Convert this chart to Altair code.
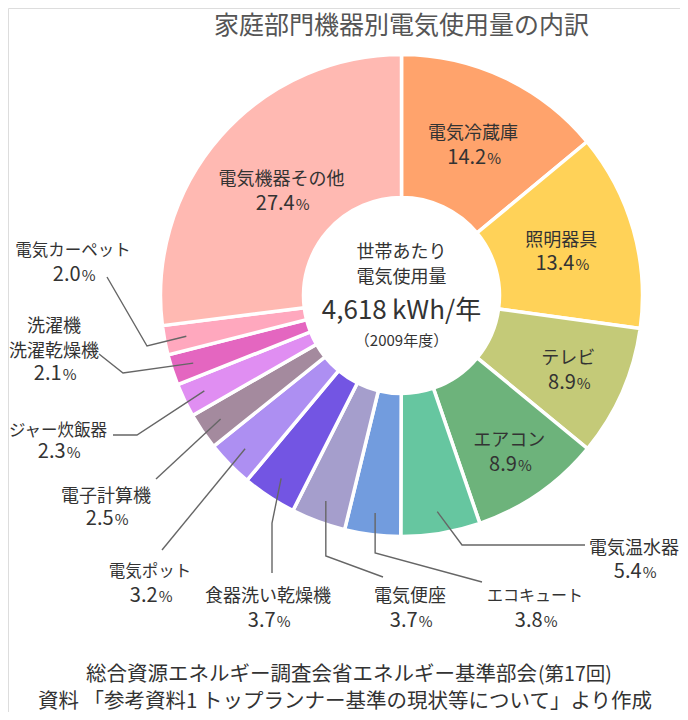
import math
import altair as alt
import pandas as pd

# ---------------- data ----------------
names = ["電気冷蔵庫", "照明器具", "テレビ", "エアコン", "電気温水器", "エコキュート",
         "電気便座", "食器洗い乾燥機", "電気ポット", "電子計算機", "ジャー炊飯器",
         "洗濯機・洗濯乾燥機", "電気カーペット", "電気機器その他"]
label_lines = [["電気冷蔵庫"], ["照明器具"], ["テレビ"], ["エアコン"], ["電気温水器"],
               ["エコキュート"], ["電気便座"], ["食器洗い乾燥機"], ["電気ポット"],
               ["電子計算機"], ["ジャー炊飯器"], ["洗濯機", "洗濯乾燥機"],
               ["電気カーペット"], ["電気機器その他"]]
values = [14.2, 13.4, 8.9, 8.9, 5.4, 3.8, 3.7, 3.7, 3.2, 2.5, 2.3, 2.1, 2.0, 27.4]
colors = ["#FFA36C", "#FFD258", "#C4CA78", "#6DB37B", "#66C6A0", "#729CDE",
          "#A59ECC", "#7355E3", "#AD8FF2", "#A48A9E", "#E08EF2", "#E466C0",
          "#FFA8BE", "#FFB9B2"]

title_text = "家庭部門機器別電気使用量の内訳"
center_lines = ["世帯あたり", "電気使用量", "4,618\u2009kWh/年", "（2009年度）"]
source_line1 = "総合資源エネルギー調査会省エネルギー基準部会"
source_line1b = "(第17回)"
source_line2 = "資料 「参考資料1 トップランナー基準の現状等について」より作成"

# ---------------- layout (page pixels) ----------------
ORIGIN = 8
W, H = 672, 704
CX, CY = 401.5, 295.5
R_OUT, R_IN = 241, 98
FONT = "Noto Sans CJK JP"
TXT = "#333333"
MID_DY = 3.5

# inside labels: radius from centre
inner_r = {"電気冷蔵庫": 168, "照明器具": 166, "テレビ": 182, "エアコン": 189, "電気機器その他": 160}
# outside labels: text centre x, first-line y, percent y, leader path after start point
outer = {
    "電気温水器": dict(x=634, y=545, py=571, path=[(462, 545), (585, 545)]),
    "エコキュート": dict(x=535, y=592, py=620, path=[("sx", 553), (482, 582)]),
    "電気便座": dict(x=410, y=593, py=620, path=[("sx", 556), (383, 577)]),
    "食器洗い乾燥機": dict(x=268, y=593, py=620, path=[(272, 523), (272, 573)]),
    "電気ポット": dict(x=150, y=568, py=595, path=[(162, 550)]),
    "電子計算機": dict(x=106, y=493, py=518, path=[(156, 479)]),
    "ジャー炊飯器": dict(x=58, y=427, py=451, path=[(137, 435), (113, 435)]),
    "洗濯機・洗濯乾燥機": dict(x=54, y=323, py=373, path=[(123, 373), (99, 354)]),
    "電気カーペット": dict(x=73, y=247, py=274, path=[(147, 346), (107, 277)]),
}
name_fs = {"電気カーペット": 16.5, "ジャー炊飯器": 16.5, "エコキュート": 16, "電気ポット": 16.5}
LEADER_R = 219
NAME_FS, NUM_FS, PCT_FS = 18, 20, 15

# ---------------- derived tables ----------------
total = sum(values)
df = pd.DataFrame({"name": names, "value": values, "idx": range(len(names))})
df["start"] = df["value"].cumsum() - df["value"]
df["mid"] = (df["start"] + df["value"] / 2) / total * 2 * math.pi

texts = []


def add(x, y, t, fs, align="center", baseline="middle", color=TXT):
    if baseline == "middle":
        y = y + MID_DY
    texts.append(dict(x=x - ORIGIN, y=y - ORIGIN, t=t, fs=fs, align=align,
                      baseline=baseline, color=color))


def add_pct(x, y, v):
    num = f"{v:.1f}"
    nw = NUM_FS * (0.56 * (len(num) - 1) + 0.28)
    pw = PCT_FS * 0.85
    d = (nw - pw) / 2
    base = y + NUM_FS * 0.36
    add(x + d, base, num, NUM_FS, "right", "alphabetic")
    add(x + d + 1, base, "%", PCT_FS, "left", "alphabetic")


lines = []
for i, row in df.iterrows():
    a = row["mid"]
    nm = row["name"]
    fs = name_fs.get(nm, NAME_FS)
    if nm in inner_r:
        r = inner_r[nm]
        lx = CX + r * math.sin(a)
        ly = CY - r * math.cos(a)
        add(lx, ly - 13, label_lines[i][0], fs)
        add_pct(lx, ly + 13, row["value"])
    else:
        o = outer[nm]
        for k, ln in enumerate(label_lines[i]):
            add(o["x"], o["y"] + 25 * k, ln, fs)
        add_pct(o["x"], o["py"], row["value"])
        sx = CX + LEADER_R * math.sin(a)
        sy = CY - LEADER_R * math.cos(a)
        pts = [(sx, sy)] + [(sx if px == "sx" else px, py) for px, py in o["path"]]
        for k, (px, py) in enumerate(pts):
            lines.append(dict(id=nm, k=k, x=px - ORIGIN, y=py - ORIGIN))

# title, centre, source
add(401.5, 22, title_text, 25, color="#555555")
add(401.5, 249, center_lines[0], 18)
add(401.5, 274, center_lines[1], 18)
add(401.5, 307, center_lines[2], 26)
add(401.5, 337, center_lines[3], 15)
add(537, 671, source_line1, 20.5, "right")
add(538, 671, source_line1b, 19.5, "left")
add(345, 698, source_line2, 20.5)

tdf = pd.DataFrame(texts)
ldf = pd.DataFrame(lines)

# ---------------- chart ----------------
arcs = alt.Chart(df).mark_arc(
    outerRadius=R_OUT, innerRadius=R_IN, stroke="white", strokeWidth=3.5
).encode(
    theta=alt.Theta("value:Q", stack=True),
    order=alt.Order("idx:Q", sort="ascending"),
    color=alt.Color("name:N", scale=alt.Scale(domain=names, range=colors), legend=None),
    x=alt.value(CX - ORIGIN),
    y=alt.value(CY - ORIGIN),
)

leaders = alt.Chart(ldf).mark_line(color="#666666", strokeWidth=1.4).encode(
    x=alt.X("x:Q", scale=None, axis=None),
    y=alt.Y("y:Q", scale=None, axis=None),
    detail="id:N",
    order="k:Q",
)

text_layers = []
for al in ["center", "left", "right"]:
    for bl in ["middle", "alphabetic"]:
        sub = tdf[(tdf["align"] == al) & (tdf["baseline"] == bl)]
        if len(sub) == 0:
            continue
        text_layers.append(
            alt.Chart(sub).mark_text(align=al, baseline=bl, font=FONT).encode(
                x=alt.X("x:Q", scale=None, axis=None),
                y=alt.Y("y:Q", scale=None, axis=None),
                text="t:N",
                size=alt.Size("fs:Q", scale=None, legend=None),
                color=alt.Color("color:N", scale=None, legend=None),
            )
        )

chart = alt.layer(arcs, leaders, *text_layers).properties(
    width=W, height=H, padding=0, autosize=alt.AutoSizeParams(type="none")
).configure_view(stroke=None).configure(background="white")

chart.save("out.html", embed_options={"renderer": "svg", "actions": False})
